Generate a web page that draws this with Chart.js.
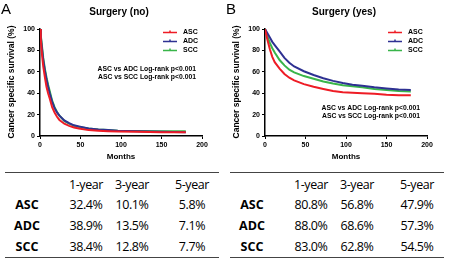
<!DOCTYPE html>
<html>
<head>
<meta charset="utf-8">
<script src="https://cdn.jsdelivr.net/npm/chart.js@4"></script>
<style>
  html, body { margin: 0; padding: 0; background: #fff; }
  #wrap { position: relative; width: 450px; height: 259px; overflow: hidden; }
  .panel { position: absolute; top: 0; width: 225px; height: 165px; }
  .tbl { position: absolute; top: 172px; width: 214px; height: 86px; font-family: "Open Sans", sans-serif; font-size: 12.5px; color: #000; }
  .tbl .rule { position: absolute; left: 0; width: 214px; height: 1px; background: #444; }
  .tbl .cell { position: absolute; width: 60px; margin-left: -30px; text-align: center; line-height: 14px; letter-spacing: -0.4px; }
  .tbl .lab { font-weight: bold; letter-spacing: 0; }
</style>
</head>
<body>
<div id="wrap">
  <div class="panel" style="left:0"><canvas id="chartA" width="225" height="165"></canvas></div>
  <div class="panel" style="left:225px"><canvas id="chartB" width="225" height="165"></canvas></div>
  <div class="tbl" id="tableA" style="left:5px"></div>
  <div class="tbl" id="tableB" style="left:230px"></div>
</div>
<script>
// Survival curve data (months, % survival)
const seriesNames = ['ASC', 'ADC', 'SCC'];
const seriesColors = ['#ee1c25', '#2e3192', '#39b54a'];

const monthsNo = [0, 1, 2, 3, 4, 6, 8, 10, 12, 15, 18, 21, 24, 30, 36, 42, 48, 60, 72, 84, 96, 120, 150, 180];
const ascNo = [100, 90, 80, 72, 65, 55, 46, 40, 35, 27, 22, 18, 15, 11.5, 9.5, 8, 7, 5.5, 5, 4.5, 4.2, 4, 3.5, 3.5];
const adcNo = [100, 93, 85, 78, 71, 61, 53, 46, 40, 32, 26, 22, 19, 14.5, 12, 10, 9, 7, 6, 5.5, 5, 4.5, 4, 3.5];
const sccNo = [100, 94, 87, 80, 73, 63, 55, 48, 42, 33, 27, 22.5, 19, 14, 11.5, 9.5, 8.5, 7, 6, 5.5, 5, 4.7, 4.5, 4.5];

const monthsYes = [0, 3, 6, 9, 12, 18, 24, 30, 36, 48, 60, 72, 84, 96, 108, 120, 135, 150, 165, 180];
const ascYes = [100, 90, 81, 74, 69, 63, 58, 54.5, 52, 48.5, 46, 44, 42, 41, 40.5, 40, 39.5, 38.5, 38, 38];
const adcYes = [100, 96, 92, 88, 85, 79, 73, 68.5, 65, 60.5, 57, 54, 51.5, 49.5, 48, 47, 45.5, 44.5, 43.5, 43];
const sccYes = [100, 93, 87, 82, 78, 71, 66, 62, 59.5, 56, 53.5, 51, 49, 47.5, 46.5, 45.5, 44, 43, 42, 41.5];

const xTicks = [0, 50, 100, 150, 200];
const yTicks = [0, 20, 40, 60, 80, 100];

const logRankLines = ['ASC vs ADC Log-rank p<0.001', 'ASC vs SCC Log-rank p<0.001'];

// Table data
const tableHeaders = ['1-year', '3-year', '5-year'];
const tableNo = [
    ['32.4%', '10.1%', '5.8%'],
    ['38.9%', '13.5%', '7.1%'],
    ['38.4%', '12.8%', '7.7%']
];
const tableYes = [
    ['80.8%', '56.8%', '47.9%'],
    ['88.0%', '68.6%', '57.3%'],
    ['83.0%', '62.8%', '54.5%']
];

function toPoints(xs, ys) {
    return xs.map((x, i) => ({ x: x, y: ys[i] }));
}

// draws panel letter, title, legend, log-rank text and axis titles
const annotations = {
    id: 'annotations',
    afterDraw(chart, args, opts) {
        const ctx = chart.ctx;
        ctx.save();
        ctx.fillStyle = '#000';
        ctx.textBaseline = 'middle';

        ctx.font = '15px "Liberation Sans", Arial, sans-serif';
        ctx.textAlign = 'left';
        ctx.fillText(opts.letter, 1, 10);

        ctx.font = 'bold 10px "Liberation Sans", Arial, sans-serif';
        ctx.textAlign = 'center';
        ctx.fillText(opts.title, 119, 12);

        // legend, same order as the series
        chart.data.datasets.forEach((ds, i) => {
            const y = 32.5 + i * 9;
            ctx.strokeStyle = ds.borderColor;
            ctx.lineWidth = 1.5;
            ctx.beginPath();
            ctx.moveTo(163, y);
            ctx.lineTo(177, y);
            ctx.moveTo(170, y - 2);
            ctx.lineTo(170, y);
            ctx.stroke();
            ctx.font = 'bold 7px "Liberation Sans", Arial, sans-serif';
            ctx.textAlign = 'left';
            ctx.fillText(ds.label, 183, y);
        });

        ctx.font = 'bold 6.8px "Liberation Sans", Arial, sans-serif';
        ctx.textAlign = 'right';
        logRankLines.forEach((t, i) => ctx.fillText(t, opts.textRight, opts.textTop + i * 8.5));

        ctx.font = 'bold 8px "Liberation Sans", Arial, sans-serif';
        ctx.textAlign = 'center';
        ctx.fillText('Months', 121, 157);

        ctx.translate(12, 82);
        ctx.rotate(-Math.PI / 2);
        ctx.font = 'bold 8.5px "Liberation Sans", Arial, sans-serif';
        ctx.fillText('Cancer specific survival (%)', 0, 0);
        ctx.restore();
    }
};

function makeSurvivalChart(canvasId, months, values, opts) {
    const tickFont = { family: '"Liberation Sans", Arial, sans-serif', size: 7, weight: 'bold' };
    return new Chart(document.getElementById(canvasId), {
        type: 'line',
        data: {
            datasets: values.map((v, i) => ({
                label: seriesNames[i],
                data: toPoints(months, v),
                borderColor: seriesColors[i],
                backgroundColor: seriesColors[i],
                borderWidth: 2,
                pointRadius: 0,
                tension: 0
            }))
        },
        options: {
            responsive: false,
            animation: false,
            layout: { padding: { top: 29, right: 23, left: 0, bottom: 0 } },
            plugins: {
                legend: { display: false },
                title: { display: false },
                tooltip: { enabled: false },
                annotations: opts
            },
            scales: {
                x: {
                    type: 'linear', min: 0, max: 200,
                    afterBuildTicks: s => { s.ticks = xTicks.map(v => ({ value: v })); },
                    afterFit: s => { s.height = 29; },
                    ticks: { font: tickFont, color: '#000', padding: 2, maxRotation: 0 },
                    grid: { drawOnChartArea: false, drawTicks: true, tickLength: 3, color: '#000', lineWidth: 1 },
                    border: { color: '#000', width: 1.5 }
                },
                y: {
                    type: 'linear', min: 0, max: 100,
                    afterBuildTicks: s => { s.ticks = yTicks.map(v => ({ value: v })); },
                    afterFit: s => { s.width = 40; },
                    ticks: { font: tickFont, color: '#000', padding: 2 },
                    grid: { drawOnChartArea: false, drawTicks: true, tickLength: 3, color: '#000', lineWidth: 1 },
                    border: { color: '#000', width: 1.5 }
                }
            }
        },
        plugins: [annotations]
    });
}

function buildTable(id, rows) {
    const el = document.getElementById(id);
    const colX = [22, 81, 127, 187];
    const rowY = [13, 33, 54, 75];
    let html = '<div class="rule" style="top:0"></div><div class="rule" style="top:85px"></div>';
    tableHeaders.forEach((h, j) => {
        html += `<div class="cell" style="left:${colX[j + 1]}px;top:${rowY[0] - 7}px">${h}</div>`;
    });
    rows.forEach((r, i) => {
        html += `<div class="cell lab" style="left:${colX[0]}px;top:${rowY[i + 1] - 7}px">${seriesNames[i]}</div>`;
        r.forEach((v, j) => {
            html += `<div class="cell" style="left:${colX[j + 1]}px;top:${rowY[i + 1] - 7}px">${v}</div>`;
        });
    });
    el.innerHTML = html;
}

makeSurvivalChart('chartA', monthsNo, [ascNo, adcNo, sccNo],
    { letter: 'A', title: 'Surgery (no)', textRight: 196, textTop: 69 });
makeSurvivalChart('chartB', monthsYes, [ascYes, adcYes, sccYes],
    { letter: 'B', title: 'Surgery (yes)', textRight: 195, textTop: 108 });
buildTable('tableA', tableNo);
buildTable('tableB', tableYes);
</script>
</body>
</html>
